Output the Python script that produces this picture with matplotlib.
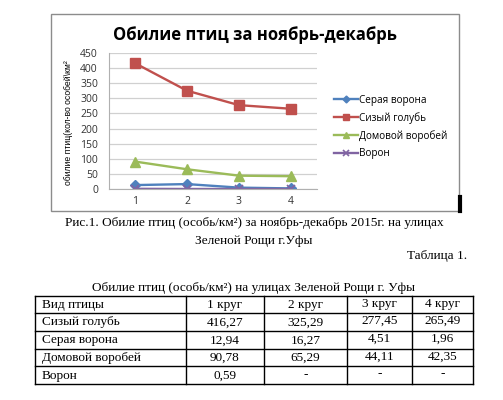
import matplotlib.pyplot as plt
from matplotlib.lines import Line2D
from matplotlib.patches import Rectangle

# данные: обилие птиц (особь/км²) по кругам учёта
krugi = [1, 2, 3, 4]
seraya_vorona = [12.94, 16.27, 4.51, 1.96]
sizyi_golub = [416.27, 325.29, 277.45, 265.49]
domovoi_vorobei = [90.78, 65.29, 44.11, 42.35]
voron = [0.59, 0, 0, 0]

vidy = ["Сизый голубь", "Серая ворона", "Домовой воробей", "Ворон"]
stolbcy = ["Вид птицы", "1 круг", "2 круг", "3 круг", "4 круг"]

W, H = 503, 400
fig = plt.figure(figsize=(W / 100, H / 100), dpi=100)
fig.patch.set_facecolor("white")


def fx(x):
    return x / W


def fy(y):
    return 1 - y / H


# рамка диаграммы
fig.add_artist(Rectangle((fx(51), fy(211)), fx(459) - fx(51), fy(14) - fy(211),
                         transform=fig.transFigure, fill=False, edgecolor="#8c8c8c", lw=1))
fig.add_artist(Line2D([fx(459.5), fx(459.5)], [fy(197), fy(211)], transform=fig.transFigure,
                      color="black", lw=3))

ax = fig.add_axes([fx(109), fy(189), fx(317) - fx(109), fy(53) - fy(189)])
ax.plot(krugi, seraya_vorona, color="#4F81BD", marker="D", ms=5, lw=1.7, label="Серая ворона")
ax.plot(krugi, sizyi_golub, color="#C0504D", marker="s", ms=6.5, lw=1.7, label="Сизый голубь")
ax.plot(krugi, domovoi_vorobei, color="#9BBB59", marker="^", ms=7, lw=1.7, label="Домовой воробей")
ax.plot(krugi, voron, color="#8064A2", marker="x", ms=6, mew=1.2, lw=1.7, label="Ворон")
ax.set_xlim(0.5, 4.5)
ax.set_ylim(0, 450)
ax.set_yticks(range(0, 451, 50))
ax.set_xticks(krugi)
ax.grid(axis="y", color="#d0d0d0", lw=0.9)
ax.set_axisbelow(True)
for s in ["top", "right"]:
    ax.spines[s].set_visible(False)
ax.spines["left"].set_color("#b0b0b0")
ax.spines["bottom"].set_color("#b0b0b0")
ax.tick_params(length=0, labelsize=7.5, labelcolor="#333333", labelfontfamily="Open Sans")
ax.tick_params(axis="y", pad=8)
ax.tick_params(axis="x", pad=5)
ax.set_ylabel("обилие птиц(кол-во особей\\км²", fontsize=6.2, family="Liberation Sans")
ax.yaxis.set_label_coords(-0.175, 0.49)
ax.set_title("Обилие птиц за ноябрь-декабрь", fontsize=12, fontweight="bold",
             family="Open Sans", x=0.70, pad=9)

fig.legend(loc="center left", bbox_to_anchor=(fx(325), fy(127)), frameon=False,
           prop={"family": "Open Sans", "size": 7.2}, handlelength=2.4,
           labelspacing=0.62, handletextpad=0.1, markerscale=0.7)

serif = "Liberation Serif"
fig.text(fx(254), fy(223), "Рис.1. Обилие птиц (особь/км²) за ноябрь-декабрь 2015г. на улицах",
         ha="center", va="center", fontsize=9.5, family=serif)
fig.text(fx(254), fy(241), "Зеленой Рощи г.Уфы", ha="center", va="center", fontsize=9.5, family=serif)
fig.text(fx(467), fy(256), "Таблица 1.", ha="right", va="center", fontsize=9.5, family=serif)
fig.text(fx(254), fy(288), "Обилие птиц (особь/км²) на улицах Зеленой Рощи г. Уфы",
         ha="center", va="center", fontsize=9.5, family=serif)

# таблица
xs = [35, 186, 264, 347, 412, 473]
ys = [296, 313, 331, 349, 366, 384]
for x in xs:
    fig.add_artist(Line2D([fx(x), fx(x)], [fy(ys[0]), fy(ys[-1])], transform=fig.transFigure,
                          color="black", lw=1))
for y in ys:
    fig.add_artist(Line2D([fx(xs[0]), fx(xs[-1])], [fy(y), fy(y)], transform=fig.transFigure,
                          color="black", lw=1))

znach = [sizyi_golub, seraya_vorona, domovoi_vorobei, voron]
rows = [stolbcy]
for i, v in enumerate(vidy):
    cells = [v]
    for j, z in enumerate(znach[i]):
        if v == "Ворон" and j > 0:
            cells.append("-")
        else:
            cells.append(f"{z:.2f}".replace(".", ","))
    rows.append(cells)

for r, cells in enumerate(rows):
    for c, t in enumerate(cells):
        yc = (ys[r] + ys[r + 1]) / 2 + 0.5
        if c >= 3:
            yc -= 1.5
        if c == 0:
            fig.text(fx(xs[0] + 7), fy(yc), t, ha="left", va="center", fontsize=9.5, family=serif)
        else:
            fig.text(fx((xs[c] + xs[c + 1]) / 2), fy(yc), t, ha="center", va="center",
                     fontsize=9.5, family=serif)

fig.savefig("out.png", dpi=100)
